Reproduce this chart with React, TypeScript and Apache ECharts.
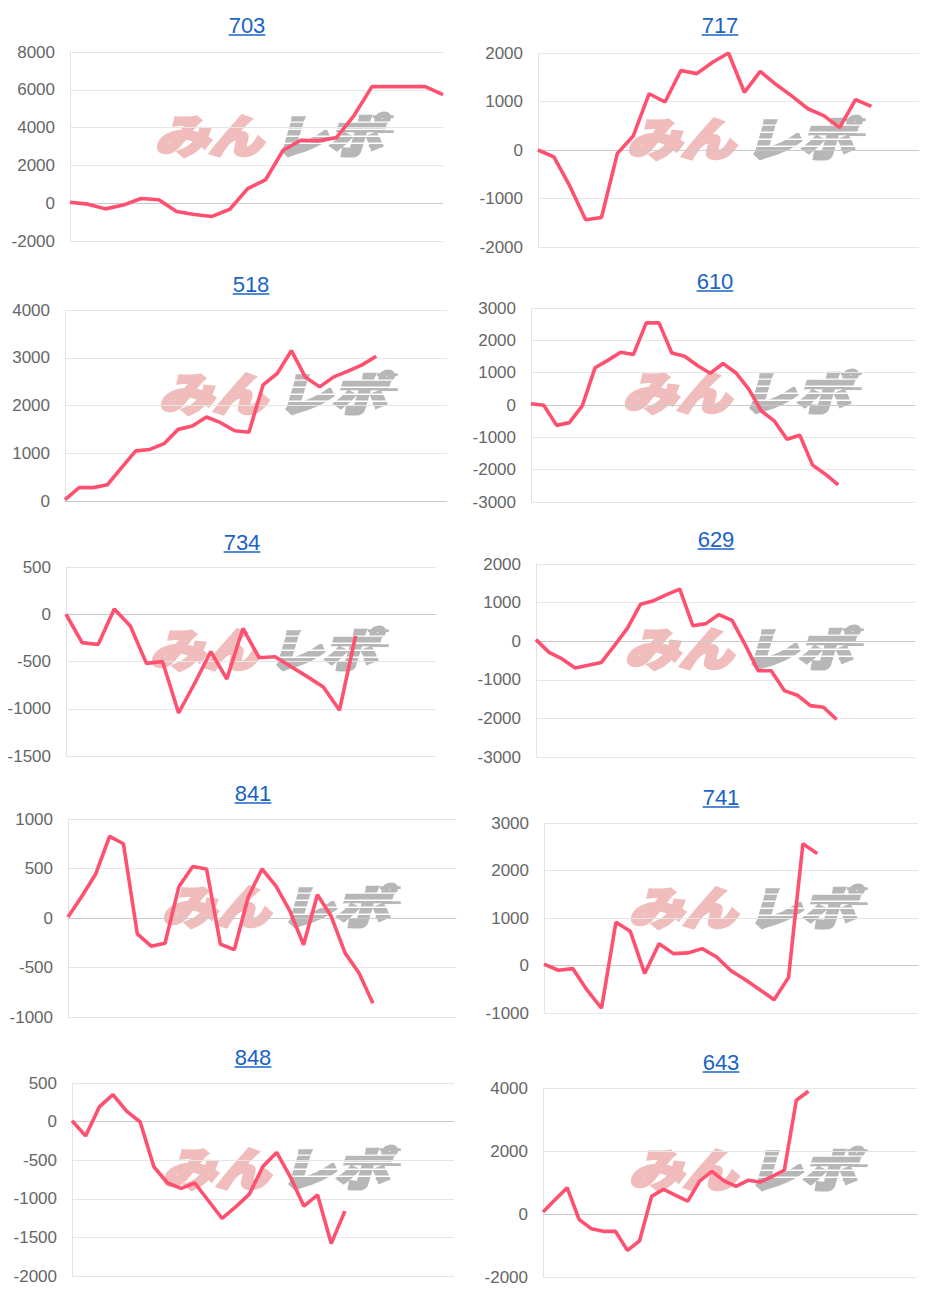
import React, { useEffect, useRef } from "react";
import * as echarts from "echarts";

// ---- data ----
const titles = ["703", "717", "518", "610", "734", "629", "841", "741", "848", "643"];

const data703 = [50, -50, -300, -100, 250, 180, -440, -600, -700, -320, 770, 1230, 2800, 3330, 3300, 3470, 4650, 6170, 6170, 6170, 6170, 5740];
const data717 = [0, -140, -740, -1440, -1390, -70, 290, 1160, 990, 1640, 1575, 1810, 2000, 1190, 1620, 1350, 1110, 850, 710, 460, 1040, 900];
const data518 = [30, 280, 280, 340, 700, 1050, 1080, 1200, 1500, 1570, 1760, 1640, 1470, 1440, 2430, 2670, 3150, 2590, 2390, 2600, 2720, 2850, 3030];
const data610 = [40, -10, -630, -545, -30, 1150, 1380, 1630, 1560, 2540, 2540, 1610, 1510, 1220, 980, 1285, 1000, 500, -185, -490, -1060, -935, -1860, -2140, -2470];
const data734 = [0, -300, -320, 55, -125, -520, -500, -1045, -730, -395, -685, -150, -460, -450, -555, -660, -770, -1015, -230];
const data629 = [40, -290, -460, -695, -625, -550, -115, 340, 960, 1050, 1205, 1350, 400, 455, 690, 540, -90, -765, -765, -1280, -1400, -1670, -1710, -2030];
const data841 = [10, 220, 445, 825, 750, -160, -285, -255, 315, 520, 495, -265, -320, 210, 495, 325, 75, -270, 235, 15, -355, -555, -860];
const data741 = [30, -100, -65, -520, -900, 910, 720, -170, 460, 250, 265, 355, 180, -110, -300, -510, -720, -250, 2565, 2355];
const data848 = [10, -185, 190, 350, 135, -5, -585, -795, -865, -795, -1025, -1255, -1105, -940, -580, -400, -715, -1095, -950, -1580, -1160];
const data643 = [65, 455, 835, -180, -465, -550, -550, -1155, -855, 560, 785, 590, 410, 1050, 1355, 1050, 880, 1070, 1015, 1195, 1385, 3610, 3895];

const seriesData = [data703, data717, data518, data610, data734, data629, data841, data741, data848, data643];

// number of x categories (days) on each panel
const categoryCounts = [22, 25, 28, 31, 24, 30, 29, 27, 29, 32];

// y-axis ticks
const yMins = [-2000, -2000, 0, -3000, -1500, -3000, -1000, -1000, -2000, -2000];
const yMaxs = [8000, 2000, 4000, 3000, 500, 2000, 1000, 3000, 500, 4000];
const yIntervals = [2000, 1000, 1000, 1000, 500, 1000, 500, 1000, 500, 2000];

const watermarkLeft = "みん";
const watermarkRight = "レポ";

// ---- layout (pixels) ----
const layout = [
  { l: 70, t: 52, r: 443, b: 241, tx: 247, ty: 25, wx: 271, wy: 134 },
  { l: 538, t: 53, r: 919, b: 247, tx: 720, ty: 25, wx: 743, wy: 137 },
  { l: 65, t: 310, r: 447, b: 501, tx: 251, ty: 284, wx: 275, wy: 392 },
  { l: 531, t: 308, r: 915, b: 502, tx: 715, ty: 281, wx: 739, wy: 391 },
  { l: 66, t: 567, r: 436, b: 756, tx: 242, ty: 542, wx: 266, wy: 648 },
  { l: 536, t: 564, r: 915, b: 757, tx: 716, ty: 539, wx: 741, wy: 647 },
  { l: 68, t: 819, r: 456, b: 1017, tx: 253, ty: 793, wx: 278, wy: 905 },
  { l: 544, t: 823, r: 918, b: 1013, tx: 721, ty: 797, wx: 745, wy: 906 },
  { l: 72, t: 1083, r: 454, b: 1276, tx: 253, ty: 1057, wx: 278, wy: 1167 },
  { l: 543, t: 1088, r: 917, b: 1277, tx: 721, ty: 1062, wx: 745, wy: 1168 },
];

const FONT = "'Liberation Sans', Arial, Helvetica, sans-serif";
const TITLE_SIZE = 22;
const LINE_COLOR = "#ff5070";
const PINK = "#f0bcbc";
const GREY = "#b7b7b7";
const WM_FONT = "italic 900 52px 'Noto Sans CJK JP', sans-serif";

function measure(text: string, font: string): number {
  const c = document.createElement("canvas").getContext("2d");
  if (!c) return text.length * 12;
  c.font = font;
  return c.measureText(text).width;
}

export default function App() {
  const ref = useRef<HTMLDivElement>(null);
  useEffect(() => {
    if (!ref.current) return;
    const chart = echarts.init(ref.current, undefined, { renderer: "svg" });

    const grid: any[] = [];
    const xAxis: any[] = [];
    const yAxis: any[] = [];
    const series: any[] = [];
    const graphic: any[] = [];

    seriesData.forEach((values, i) => {
      const L = layout[i];
      grid.push({ left: L.l, top: L.t, width: L.r - L.l, height: L.b - L.t, containLabel: false });
      const cats = Array.from({ length: categoryCounts[i] }, (_, k) => String(k + 1));
      xAxis.push({
        type: "category",
        gridIndex: i,
        data: cats,
        boundaryGap: false,
        axisLabel: { show: false },
        axisTick: { show: false },
        axisLine: { show: true, onZero: true, lineStyle: { color: "#c9c9c9", width: 1 } },
        splitLine: { show: false },
      });
      yAxis.push({
        type: "value",
        gridIndex: i,
        min: yMins[i],
        max: yMaxs[i],
        interval: yIntervals[i],
        axisLine: { show: true, lineStyle: { color: "#e3e3e3", width: 1 } },
        axisTick: { show: false },
        splitLine: { show: true, lineStyle: { color: "#e6e6e6", width: 1 } },
        axisLabel: {
          show: true,
          color: "#666666",
          fontSize: 17,
          fontFamily: FONT,
          margin: 15,
          formatter: (v: number) => String(v),
        },
      });
      series.push({
        type: "line",
        xAxisIndex: i,
        yAxisIndex: i,
        data: values,
        symbol: "none",
        lineStyle: { color: LINE_COLOR, width: 3.6 },
        z: 5,
      });

      // title + underline
      const tw = measure(titles[i], `${TITLE_SIZE}px 'Liberation Sans', Arial`);
      graphic.push({
        type: "text",
        x: L.tx,
        y: L.ty,
        z: 10,
        style: {
          text: titles[i],
          fill: "#1a63c6",
          font: `${TITLE_SIZE}px ${FONT}`,
          textAlign: "center",
          textVerticalAlign: "middle",
        },
      });
      graphic.push({
        type: "line",
        z: 10,
        shape: { x1: L.tx - tw / 2, y1: L.ty + 10, x2: L.tx + tw / 2, y2: L.ty + 10 },
        style: { stroke: "#1a63c6", lineWidth: 1.4 },
      });

      // watermark
      const stripes = [-12, -4, 4, 12].map((dy) => ({
        type: "rect",
        shape: { x: 0, y: dy, width: 118, height: 1.6 },
        style: { fill: "#ffffff" },
      }));
      const speed = [
        { x: 98, y: -19, w: 20 },
        { x: 102, y: -2, w: 16 },
        { x: 94, y: 14, w: 14 },
      ].map((s) => ({
        type: "rect",
        shape: { x: s.x, y: s.y, width: s.w, height: 3.2 },
        style: { fill: GREY },
      }));
      graphic.push({
        type: "group",
        x: L.wx,
        y: L.wy - 2,
        scaleX: 1.04,
        scaleY: 0.88,
        z: 1,
        silent: true,
        children: [
          {
            type: "text",
            x: -8,
            y: 1,
            style: {
              text: watermarkLeft,
              fill: PINK,
              stroke: PINK,
              lineWidth: 3.5,
              font: WM_FONT,
              textAlign: "right",
              textVerticalAlign: "middle",
            },
          },
          {
            type: "text",
            x: 2,
            y: 1,
            style: {
              text: watermarkRight,
              fill: GREY,
              stroke: GREY,
              lineWidth: 3.5,
              font: WM_FONT,
              textAlign: "left",
              textVerticalAlign: "middle",
            },
          },
          ...speed,
          ...stripes,
        ],
      });
    });

    chart.setOption({
      animation: false,
      backgroundColor: "#ffffff",
      grid,
      xAxis,
      yAxis,
      series,
      graphic,
    });
    return () => chart.dispose();
  }, []);

  return (
    <div
      ref={ref}
      style={{ position: "absolute", left: 0, top: 0, width: 936, height: 1293 }}
    />
  );
}
